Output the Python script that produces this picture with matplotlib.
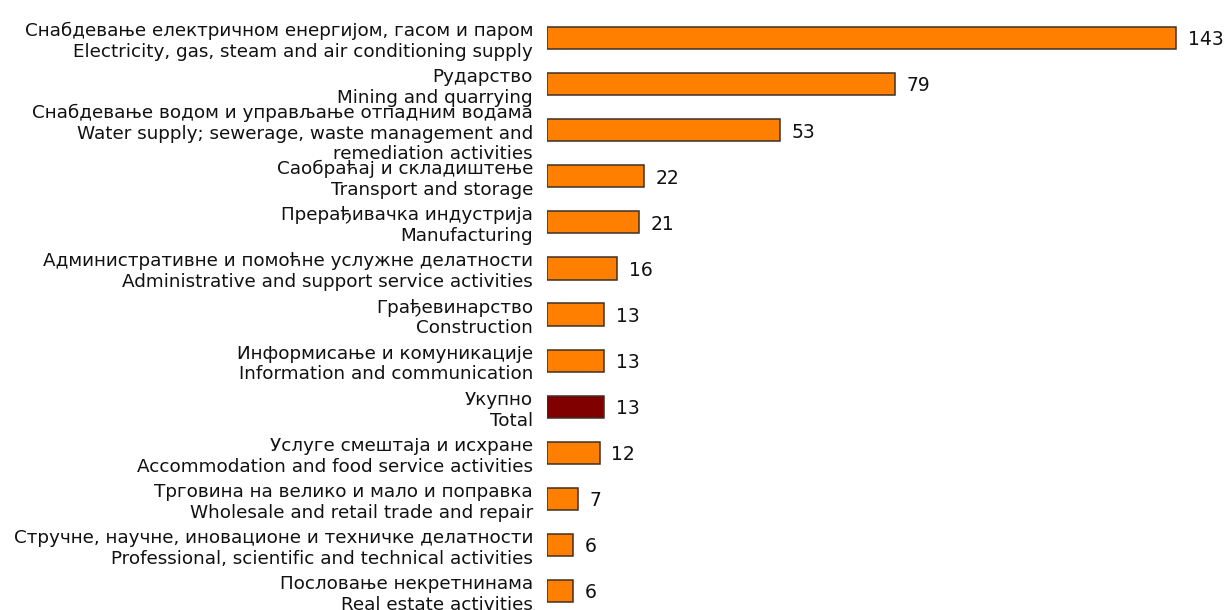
import matplotlib
matplotlib.use("Agg")
import matplotlib.pyplot as plt
import numpy as np

plt.rcParams['font.family'] = ['DejaVu Sans']

labels = [
    "Снабдевање електричном енергијом, гасом и паром\nElectricity, gas, steam and air conditioning supply",
    "Рударство\nMining and quarrying",
    "Снабдевање водом и управљање отпадним водама\nWater supply; sewerage, waste management and\nremediation activities",
    "Саобраћај и складиштење\nTransport and storage",
    "Прерађивачка индустрија\nManufacturing",
    "Административне и помоћне услужне делатности\nAdministrative and support service activities",
    "Грађевинарство\nConstruction",
    "Информисање и комуникације\nInformation and communication",
    "Укупно\nTotal",
    "Услуге смештаја и исхране\nAccommodation and food service activities",
    "Трговина на велико и мало и поправка\nWholesale and retail trade and repair",
    "Стручне, научне, иновационе и техничке делатности\nProfessional, scientific and technical activities",
    "Пословање некретнинама\nReal estate activities",
]
values = [143, 79, 53, 22, 21, 16, 13, 13, 13, 12, 7, 6, 6]
total_label = "Укупно\nTotal"

colors = ['#800000' if l == total_label else '#ff8000' for l in labels]

fig = plt.figure(figsize=(12.3, 6.1), dpi=100)
ax = fig.add_axes([0.4447, 0, 0.5553, 1])

y = np.arange(len(values))
ax.barh(y, values, height=0.48, color=colors, edgecolor='#3f3026', linewidth=1.1)

# value labels to the right of each bar
for yi, v in zip(y, values):
    ax.text(v + 2.6, yi + 0.04, str(v), va='center', ha='left', fontsize=13.5, color='#111111')

ax.set_xlim(0, 155.2)
ax.set_ylim(12.41, -0.824)
ax.set_yticks(y)
ax.set_yticklabels(labels, fontsize=13.2, color='#111111', linespacing=1.2)
ax.tick_params(axis='y', length=0, pad=10)
ax.set_xticks([])
for s in ax.spines.values():
    s.set_visible(False)

fig.savefig("out.png", dpi=100)
